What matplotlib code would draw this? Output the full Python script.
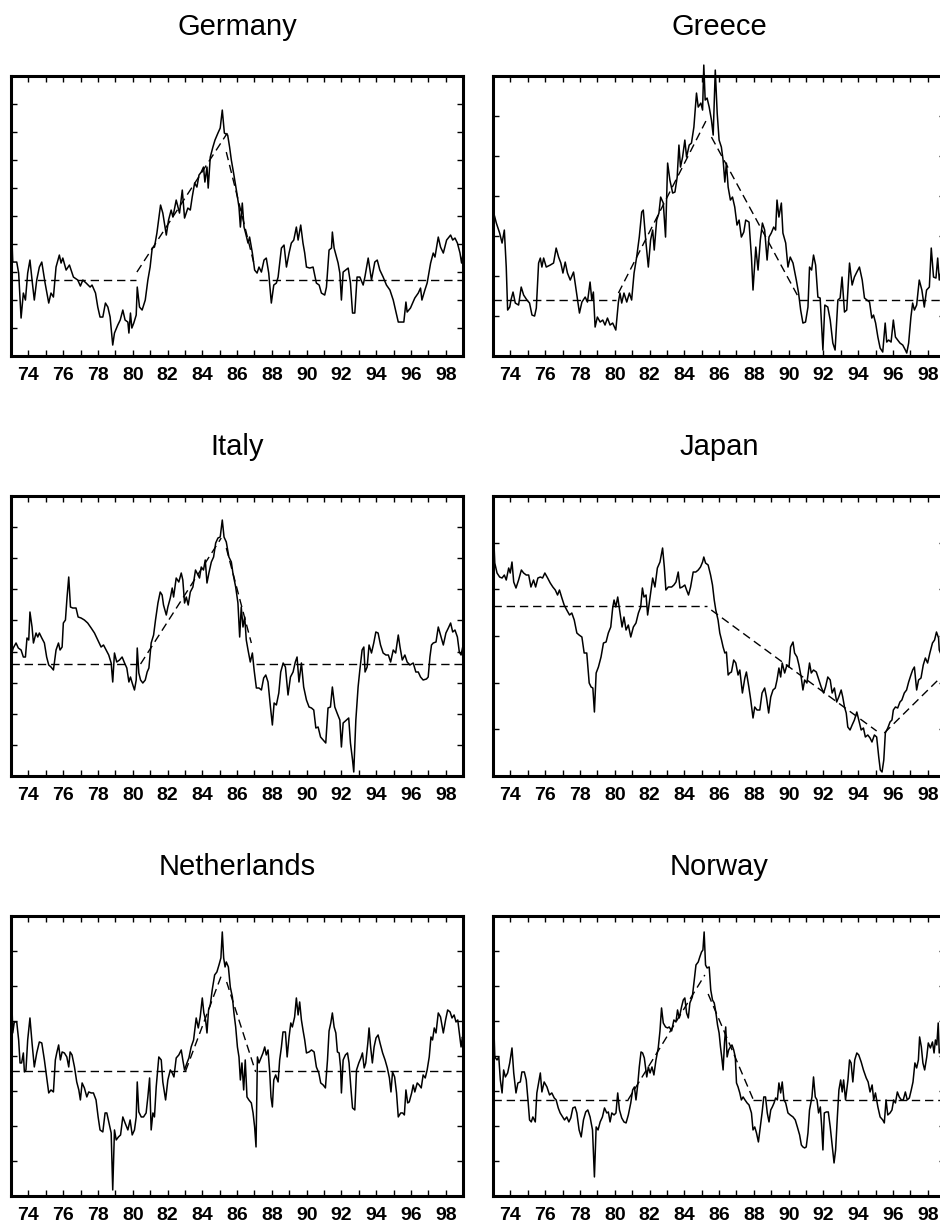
import matplotlib
matplotlib.use("Agg")
import matplotlib.pyplot as plt
import numpy as np

plt.rcParams['font.family'] = ['Liberation Sans', 'DejaVu Sans']

# real exchange rate index per country (decimal years), with fitted piecewise trend
ger_t = [73.04, 73.10, 73.33, 73.44, 73.58, 73.71, 73.83, 73.96, 74.09, 74.21,
         74.34, 74.48, 74.63, 74.77, 74.96, 75.17, 75.30, 75.44, 75.59, 75.78,
         75.88, 75.98, 76.17, 76.36, 76.59, 76.84, 76.99, 77.13, 77.32, 77.55,
         77.66, 77.86, 77.99, 78.12, 78.28, 78.43, 78.57, 78.70, 78.85, 78.95,
         79.14, 79.28, 79.43, 79.56, 79.72, 79.78, 79.87, 79.95, 80.06, 80.20,
         80.26, 80.39, 80.54, 80.72, 80.87, 81.00, 81.12, 81.25, 81.39, 81.60,
         81.73, 81.93, 82.06, 82.21, 82.31, 82.50, 82.69, 82.85, 82.98, 83.17,
         83.31, 83.42, 83.56, 83.69, 83.81, 83.94, 84.07, 84.15, 84.27, 84.34,
         84.46, 84.61, 84.73, 84.90, 85.03, 85.15, 85.27, 85.46, 85.57, 85.67,
         85.80, 85.96, 86.11, 86.19, 86.30, 86.40, 86.49, 86.63, 86.72, 86.88,
         87.01, 87.15, 87.26, 87.40, 87.55, 87.68, 87.82, 87.97, 88.11, 88.26,
         88.36, 88.55, 88.70, 88.84, 88.99, 89.12, 89.26, 89.41, 89.51, 89.66,
         89.79, 89.89, 89.99, 90.18, 90.37, 90.56, 90.72, 90.85, 91.04, 91.14,
         91.29, 91.43, 91.48, 91.58, 91.81, 91.91, 92.00, 92.10, 92.39, 92.52,
         92.64, 92.77, 92.90, 93.06, 93.25, 93.35, 93.54, 93.73, 93.92, 94.06,
         94.21, 94.40, 94.59, 94.79, 94.98, 95.27, 95.46, 95.59, 95.71, 95.78,
         95.97, 96.22, 96.42, 96.55, 96.63, 96.80, 96.93, 97.13, 97.28, 97.38,
         97.57, 97.70, 97.86, 98.05, 98.28, 98.40, 98.53, 98.67, 98.82, 98.91,
         99.00]
ger_v = [124, 94, 94, 83, 38, 63, 56, 83, 96, 76,
         56, 76, 89, 94, 73, 53, 63, 59, 89, 101,
         93, 98, 86, 91, 79, 76, 70, 76, 73, 69,
         71, 63, 49, 39, 39, 53, 49, 39, 11, 23,
         31, 36, 46, 36, 34, 23, 43, 28, 33, 41,
         69, 49, 46, 56, 76, 89, 108, 109, 123, 151,
         143, 121, 136, 146, 139, 156, 143, 166, 138, 148,
         146, 159, 173, 169, 181, 184, 189, 174, 189, 168,
         199, 209, 216, 223, 228, 246, 223, 221, 209, 196,
         183, 166, 149, 129, 153, 129, 123, 113, 119, 103,
         86, 83, 89, 84, 96, 98, 83, 53, 71, 73,
         79, 108, 111, 89, 103, 113, 116, 129, 116, 131,
         113, 103, 89, 88, 89, 73, 71, 63, 61, 69,
         106, 108, 124, 108, 93, 83, 56, 84, 88, 73,
         43, 43, 79, 79, 71, 79, 98, 76, 94, 96,
         86, 79, 71, 66, 56, 34, 34, 34, 54, 44,
         48, 58, 63, 68, 56, 66, 73, 93, 103, 99,
         119, 109, 103, 116, 121, 116, 118, 113, 103, 93,
         103]
ger_trend = [(73.0, 76, 80.2, 76), (80.24, 84, 85.44, 223),
             (85.38, 204, 86.95, 94), (87.26, 76, 99.0, 76)]

gre_t = [73.04, 73.19, 73.38, 73.52, 73.65, 73.76, 73.84, 73.96, 74.03, 74.15,
         74.28, 74.47, 74.62, 74.76, 74.95, 75.10, 75.24, 75.39, 75.49, 75.62,
         75.72, 75.81, 75.91, 76.06, 76.29, 76.48, 76.63, 76.77, 76.90, 77.02,
         77.15, 77.28, 77.44, 77.63, 77.78, 77.86, 77.97, 78.11, 78.30, 78.43,
         78.58, 78.68, 78.77, 78.87, 79.00, 79.16, 79.31, 79.44, 79.58, 79.73,
         79.88, 80.06, 80.21, 80.30, 80.40, 80.53, 80.69, 80.84, 80.97, 81.11,
         81.26, 81.41, 81.55, 81.64, 81.78, 81.93, 82.06, 82.18, 82.27, 82.41,
         82.54, 82.64, 82.79, 82.92, 83.04, 83.17, 83.33, 83.46, 83.59, 83.69,
         83.78, 83.90, 84.03, 84.13, 84.28, 84.41, 84.55, 84.70, 84.80, 84.95,
         85.05, 85.12, 85.20, 85.31, 85.43, 85.56, 85.66, 85.78, 85.89, 86.00,
         86.13, 86.23, 86.33, 86.42, 86.52, 86.65, 86.77, 86.90, 87.03, 87.15,
         87.28, 87.42, 87.53, 87.72, 87.86, 87.95, 88.11, 88.24, 88.37, 88.49,
         88.62, 88.76, 88.87, 89.00, 89.14, 89.25, 89.33, 89.44, 89.58, 89.67,
         89.83, 89.96, 90.09, 90.25, 90.44, 90.57, 90.69, 90.82, 90.97, 91.11,
         91.20, 91.32, 91.43, 91.55, 91.68, 91.81, 91.97, 92.08, 92.25, 92.39,
         92.54, 92.67, 92.83, 92.96, 93.07, 93.21, 93.34, 93.50, 93.65, 93.78,
         93.92, 94.07, 94.23, 94.36, 94.50, 94.65, 94.78, 94.88, 95.00, 95.13,
         95.26, 95.41, 95.55, 95.64, 95.75, 95.89, 96.02, 96.14, 96.27, 96.40,
         96.56, 96.71, 96.79, 96.90, 97.03, 97.13, 97.23, 97.36, 97.51, 97.66,
         97.80, 97.93, 98.09, 98.20, 98.33, 98.47, 98.57, 98.66, 98.80, 99.00]
gre_v = [143, 133, 123, 113, 126, 89, 46, 49, 56, 64,
         53, 51, 69, 61, 56, 53, 41, 40, 48, 93,
         98, 89, 98, 89, 91, 93, 108, 99, 93, 83,
         94, 83, 76, 84, 66, 56, 43, 54, 59, 54,
         74, 56, 64, 29, 39, 34, 36, 31, 38, 31,
         33, 26, 54, 63, 53, 63, 54, 63, 56, 83,
         99, 119, 144, 146, 116, 89, 116, 126, 106, 136,
         143, 159, 153, 119, 193, 176, 163, 164, 179, 211,
         189, 199, 216, 199, 211, 213, 229, 263, 249, 253,
         246, 291, 256, 258, 249, 236, 221, 286, 243, 216,
         209, 196, 174, 193, 169, 156, 159, 149, 131, 136,
         119, 124, 136, 134, 99, 66, 109, 86, 116, 133,
         126, 96, 119, 123, 129, 126, 156, 139, 153, 123,
         113, 89, 99, 93, 76, 63, 46, 33, 34, 49,
         89, 86, 101, 91, 59, 58, 6, 51, 49, 36,
         13, 6, 56, 58, 79, 44, 46, 93, 71, 79,
         84, 89, 76, 58, 56, 54, 38, 41, 33, 19,
         8, 4, 33, 14, 16, 14, 36, 19, 16, 13,
         11, 6, 3, 13, 39, 53, 46, 51, 76, 66,
         49, 66, 69, 108, 79, 78, 98, 76, 88, 82]
gre_trend = [(73.0, 56, 80.1, 56), (80.21, 63, 85.24, 235),
             (85.56, 219, 90.59, 58), (90.59, 56, 99.0, 56)]

ita_t = [73.04, 73.13, 73.29, 73.42, 73.58, 73.71, 73.83, 73.92, 74.02, 74.09,
         74.21, 74.29, 74.44, 74.54, 74.63, 74.77, 74.92, 75.05, 75.17, 75.30,
         75.44, 75.59, 75.73, 75.82, 75.94, 76.01, 76.13, 76.22, 76.32, 76.42,
         76.55, 76.74, 76.86, 77.03, 77.22, 77.41, 77.61, 77.80, 77.99, 78.18,
         78.32, 78.47, 78.62, 78.76, 78.85, 78.95, 79.08, 79.24, 79.39, 79.53,
         79.66, 79.78, 79.87, 79.97, 80.10, 80.20, 80.26, 80.35, 80.45, 80.58,
         80.72, 80.83, 80.93, 81.06, 81.20, 81.31, 81.45, 81.58, 81.69, 81.77,
         81.93, 82.02, 82.16, 82.27, 82.35, 82.50, 82.65, 82.79, 82.88, 82.98,
         83.08, 83.19, 83.31, 83.46, 83.61, 83.75, 83.84, 83.94, 84.07, 84.17,
         84.27, 84.38, 84.52, 84.65, 84.77, 84.90, 85.03, 85.15, 85.25, 85.38,
         85.53, 85.67, 85.76, 85.92, 86.05, 86.15, 86.24, 86.34, 86.44, 86.53,
         86.63, 86.76, 86.88, 86.98, 87.11, 87.26, 87.40, 87.53, 87.65, 87.78,
         87.92, 88.03, 88.13, 88.26, 88.40, 88.51, 88.65, 88.78, 88.93, 89.07,
         89.22, 89.35, 89.45, 89.56, 89.70, 89.83, 89.99, 90.14, 90.28, 90.41,
         90.53, 90.66, 90.80, 90.95, 91.10, 91.23, 91.37, 91.48, 91.62, 91.75,
         91.91, 92.00, 92.10, 92.29, 92.42, 92.52, 92.64, 92.71, 92.83, 92.96,
         93.06, 93.19, 93.29, 93.36, 93.48, 93.59, 93.73, 93.86, 93.98, 94.11,
         94.25, 94.40, 94.56, 94.70, 94.83, 94.98, 95.12, 95.27, 95.37, 95.50,
         95.65, 95.78, 95.94, 96.13, 96.28, 96.42, 96.55, 96.70, 96.89, 96.99,
         97.09, 97.18, 97.28, 97.44, 97.57, 97.70, 97.86, 98.01, 98.15, 98.28,
         98.40, 98.53, 98.67, 98.78, 98.88, 99.00]
ita_v = [123, 128, 133, 128, 126, 119, 119, 138, 136, 164,
         149, 133, 143, 139, 143, 138, 133, 119, 111, 109,
         106, 126, 133, 126, 129, 153, 156, 178, 199, 169,
         168, 168, 159, 158, 156, 153, 148, 143, 136, 129,
         131, 126, 121, 113, 94, 123, 114, 116, 119, 113,
         108, 94, 99, 93, 86, 96, 128, 103, 96, 93,
         96, 104, 108, 133, 141, 156, 173, 184, 181, 171,
         161, 169, 178, 188, 179, 198, 194, 203, 196, 173,
         179, 171, 184, 189, 206, 201, 198, 209, 206, 216,
         193, 203, 214, 219, 233, 238, 239, 256, 239, 234,
         219, 214, 203, 189, 173, 139, 169, 149, 159, 136,
         126, 114, 123, 106, 88, 88, 86, 98, 101, 94,
         69, 51, 73, 71, 83, 104, 113, 109, 81, 99,
         104, 114, 119, 94, 113, 89, 76, 69, 68, 66,
         48, 49, 39, 36, 33, 68, 69, 89, 69, 63,
         56, 29, 53, 56, 58, 33, 16, 4, 56, 89,
         106, 126, 129, 104, 109, 131, 123, 133, 144, 143,
         131, 123, 121, 121, 114, 126, 123, 141, 129, 116,
         121, 114, 111, 113, 104, 104, 99, 96, 97, 99,
         119, 131, 133, 134, 149, 141, 131, 143, 148, 153,
         144, 146, 139, 124, 121, 131]
ita_trend = [(73.0, 112, 80.45, 112), (80.45, 112, 85.09, 238),
             (85.38, 228, 86.82, 133), (87.11, 112, 99.0, 112)]

jpn_t = [73.04, 73.10, 73.23, 73.38, 73.52, 73.65, 73.76, 73.90, 73.99, 74.09,
         74.19, 74.32, 74.47, 74.63, 74.76, 74.91, 75.05, 75.18, 75.33, 75.45,
         75.58, 75.72, 75.85, 75.98, 76.14, 76.29, 76.44, 76.58, 76.71, 76.82,
         76.96, 77.09, 77.24, 77.40, 77.53, 77.67, 77.82, 77.95, 78.11, 78.24,
         78.39, 78.53, 78.64, 78.74, 78.83, 78.93, 79.06, 79.21, 79.35, 79.50,
         79.63, 79.77, 79.88, 79.96, 80.06, 80.17, 80.30, 80.42, 80.53, 80.65,
         80.78, 80.92, 81.07, 81.22, 81.36, 81.49, 81.59, 81.68, 81.80, 81.89,
         82.03, 82.18, 82.31, 82.45, 82.60, 82.75, 82.85, 82.94, 83.08, 83.27,
         83.40, 83.52, 83.65, 83.75, 83.88, 84.03, 84.13, 84.24, 84.36, 84.51,
         84.66, 84.80, 84.93, 85.05, 85.12, 85.22, 85.37, 85.51, 85.62, 85.72,
         85.81, 85.94, 86.04, 86.14, 86.23, 86.33, 86.42, 86.52, 86.61, 86.71,
         86.84, 86.96, 87.09, 87.19, 87.34, 87.48, 87.57, 87.71, 87.82, 87.95,
         88.05, 88.18, 88.34, 88.47, 88.62, 88.72, 88.85, 88.97, 89.10, 89.23,
         89.33, 89.44, 89.54, 89.63, 89.77, 89.90, 90.02, 90.11, 90.25, 90.34,
         90.48, 90.59, 90.72, 90.82, 90.92, 91.05, 91.20, 91.30, 91.43, 91.59,
         91.74, 91.87, 92.01, 92.12, 92.25, 92.39, 92.50, 92.63, 92.76, 92.88,
         93.02, 93.11, 93.21, 93.31, 93.40, 93.53, 93.65, 93.78, 93.92, 94.03,
         94.17, 94.30, 94.41, 94.55, 94.68, 94.79, 94.93, 95.06, 95.18, 95.27,
         95.37, 95.47, 95.56, 95.70, 95.83, 95.94, 96.02, 96.14, 96.27, 96.40,
         96.51, 96.65, 96.78, 96.90, 97.03, 97.13, 97.23, 97.36, 97.47, 97.61,
         97.74, 97.86, 97.99, 98.12, 98.27, 98.39, 98.50, 98.62, 98.66, 98.80,
         99.00]
jpn_v = [238, 213, 203, 199, 198, 201, 196, 208, 203, 214,
         194, 188, 196, 206, 203, 201, 201, 189, 196, 189,
         198, 199, 198, 203, 198, 193, 189, 186, 181, 186,
         178, 171, 166, 161, 163, 156, 143, 141, 139, 123,
         123, 93, 89, 88, 64, 103, 109, 119, 133, 134,
         143, 149, 168, 176, 169, 179, 163, 149, 159, 146,
         151, 139, 149, 153, 163, 169, 188, 179, 181, 161,
         179, 198, 189, 208, 214, 228, 209, 186, 189, 189,
         191, 194, 204, 188, 189, 191, 186, 181, 189, 204,
         204, 206, 209, 214, 219, 213, 211, 201, 191, 176,
         166, 156, 143, 136, 129, 123, 124, 101, 103, 104,
         116, 113, 101, 106, 83, 98, 104, 89, 76, 58,
         69, 66, 66, 83, 88, 79, 63, 79, 86, 88,
         96, 108, 99, 113, 103, 111, 109, 129, 134, 123,
         119, 111, 99, 86, 96, 93, 113, 103, 106, 104,
         96, 89, 83, 89, 99, 96, 83, 88, 74, 79,
         86, 79, 69, 63, 49, 46, 51, 56, 64, 56,
         46, 48, 39, 41, 38, 34, 41, 39, 19, 6,
         4, 16, 43, 48, 54, 56, 66, 69, 68, 74,
         76, 83, 86, 94, 101, 106, 109, 86, 96, 98,
         111, 118, 113, 123, 133, 136, 144, 138, 126, 120,
         112]
jpn_trend = [(73.0, 170, 85.28, 170), (85.55, 166, 95.06, 45),
             (95.50, 43, 99.0, 103)]

ned_t = [73.04, 73.10, 73.19, 73.33, 73.44, 73.52, 73.61, 73.71, 73.77, 73.86,
         73.96, 74.09, 74.21, 74.34, 74.48, 74.63, 74.77, 74.92, 75.05, 75.17,
         75.30, 75.44, 75.55, 75.63, 75.74, 75.84, 75.94, 76.07, 76.21, 76.32,
         76.40, 76.51, 76.65, 76.78, 76.90, 76.99, 77.09, 77.22, 77.36, 77.47,
         77.61, 77.74, 77.89, 78.01, 78.12, 78.28, 78.41, 78.51, 78.62, 78.76,
         78.85, 78.95, 79.05, 79.18, 79.30, 79.43, 79.56, 79.72, 79.85, 79.97,
         80.10, 80.20, 80.26, 80.35, 80.49, 80.62, 80.77, 80.87, 80.97, 81.06,
         81.16, 81.25, 81.35, 81.50, 81.64, 81.73, 81.89, 82.02, 82.16, 82.27,
         82.37, 82.50, 82.65, 82.79, 82.88, 82.98, 83.12, 83.23, 83.36, 83.50,
         83.65, 83.77, 83.88, 84.00, 84.09, 84.19, 84.27, 84.36, 84.46, 84.57,
         84.71, 84.84, 84.96, 85.07, 85.15, 85.23, 85.31, 85.38, 85.50, 85.61,
         85.73, 85.82, 85.92, 86.02, 86.11, 86.19, 86.28, 86.38, 86.47, 86.57,
         86.68, 86.82, 86.92, 87.01, 87.09, 87.17, 87.26, 87.40, 87.49, 87.59,
         87.68, 87.78, 87.88, 87.95, 88.03, 88.11, 88.22, 88.36, 88.45, 88.55,
         88.64, 88.78, 88.88, 88.99, 89.09, 89.18, 89.31, 89.41, 89.51, 89.60,
         89.70, 89.80, 89.89, 89.99, 90.14, 90.28, 90.43, 90.56, 90.70, 90.81,
         90.95, 91.08, 91.20, 91.29, 91.39, 91.48, 91.58, 91.68, 91.77, 91.87,
         91.95, 92.00, 92.10, 92.23, 92.35, 92.44, 92.54, 92.64, 92.77, 92.87,
         93.00, 93.12, 93.21, 93.31, 93.40, 93.52, 93.59, 93.68, 93.78, 93.88,
         93.99, 94.11, 94.22, 94.37, 94.51, 94.64, 94.76, 94.85, 94.94, 95.06,
         95.17, 95.27, 95.41, 95.52, 95.62, 95.71, 95.81, 95.90, 96.04, 96.13,
         96.22, 96.36, 96.47, 96.59, 96.70, 96.82, 96.93, 97.05, 97.15, 97.24,
         97.34, 97.44, 97.57, 97.70, 97.86, 97.99, 98.11, 98.25, 98.36, 98.48,
         98.59, 98.69, 98.78, 98.88, 98.96, 99.00]
ned_v = [201, 163, 174, 174, 156, 133, 133, 143, 124, 126,
         156, 178, 153, 129, 143, 154, 153, 136, 119, 103,
         106, 104, 136, 143, 151, 136, 144, 143, 139, 129,
         144, 141, 129, 114, 106, 96, 113, 108, 99, 104,
         103, 103, 96, 79, 66, 64, 83, 83, 74, 63,
         6, 66, 56, 59, 61, 79, 73, 66, 76, 61,
         66, 79, 114, 84, 79, 79, 83, 99, 118, 66,
         83, 79, 109, 139, 136, 114, 96, 116, 126, 123,
         119, 138, 141, 146, 136, 126, 133, 138, 149, 156,
         178, 168, 179, 198, 183, 176, 163, 186, 191, 206,
         221, 224, 231, 238, 264, 238, 229, 234, 229, 209,
         199, 183, 169, 149, 139, 116, 133, 106, 136, 99,
         96, 93, 83, 69, 49, 139, 133, 139, 143, 149,
         141, 146, 123, 99, 89, 116, 121, 114, 136, 149,
         164, 164, 139, 159, 173, 169, 179, 198, 181, 194,
         176, 165, 156, 143, 144, 146, 144, 129, 123, 113,
         111, 108, 136, 165, 173, 183, 169, 163, 144, 143,
         129, 103, 136, 141, 143, 133, 109, 88, 86, 126,
         133, 138, 143, 128, 133, 153, 168, 149, 133, 149,
         158, 161, 153, 143, 136, 128, 118, 104, 124, 119,
         103, 79, 83, 83, 81, 106, 93, 94, 103, 111,
         104, 113, 111, 108, 121, 118, 126, 139, 159, 156,
         168, 163, 183, 179, 163, 176, 186, 184, 178, 181,
         174, 176, 163, 149, 159, 156]
ned_trend = [(73.0, 125, 83.04, 125), (83.04, 125, 85.11, 221),
             (85.40, 214, 87.07, 124), (87.2, 125, 99.0, 125)]

nor_t = [73.04, 73.10, 73.23, 73.33, 73.42, 73.52, 73.61, 73.71, 73.84, 73.96,
         74.09, 74.19, 74.32, 74.43, 74.57, 74.66, 74.80, 74.91, 75.01, 75.10,
         75.20, 75.29, 75.43, 75.52, 75.62, 75.72, 75.81, 75.94, 76.10, 76.25,
         76.38, 76.52, 76.63, 76.75, 76.86, 77.00, 77.11, 77.24, 77.36, 77.47,
         77.59, 77.72, 77.82, 77.95, 78.07, 78.20, 78.33, 78.45, 78.58, 78.72,
         78.83, 78.93, 79.04, 79.16, 79.29, 79.41, 79.54, 79.63, 79.73, 79.83,
         79.96, 80.07, 80.17, 80.27, 80.40, 80.53, 80.65, 80.78, 80.92, 81.03,
         81.13, 81.22, 81.32, 81.41, 81.51, 81.60, 81.70, 81.84, 81.93, 82.03,
         82.14, 82.25, 82.37, 82.50, 82.60, 82.69, 82.79, 82.92, 83.04, 83.13,
         83.27, 83.40, 83.52, 83.61, 83.71, 83.84, 83.94, 84.03, 84.13, 84.23,
         84.32, 84.46, 84.55, 84.67, 84.80, 84.89, 84.99, 85.07, 85.14, 85.22,
         85.31, 85.43, 85.52, 85.62, 85.72, 85.81, 85.91, 86.00, 86.08, 86.15,
         86.23, 86.31, 86.38, 86.46, 86.55, 86.65, 86.74, 86.84, 86.93, 87.00,
         87.09, 87.19, 87.28, 87.38, 87.49, 87.61, 87.72, 87.86, 87.95, 88.05,
         88.15, 88.26, 88.37, 88.47, 88.57, 88.67, 88.77, 88.87, 88.97, 89.06,
         89.16, 89.25, 89.35, 89.44, 89.54, 89.63, 89.73, 89.83, 89.96, 90.09,
         90.25, 90.38, 90.50, 90.63, 90.73, 90.82, 90.92, 91.01, 91.11, 91.20,
         91.34, 91.43, 91.53, 91.63, 91.72, 91.82, 91.90, 91.97, 92.05, 92.17,
         92.28, 92.39, 92.51, 92.61, 92.70, 92.80, 92.89, 92.99, 93.08, 93.16,
         93.27, 93.41, 93.50, 93.59, 93.69, 93.80, 93.92, 94.03, 94.17, 94.30,
         94.46, 94.57, 94.68, 94.80, 94.89, 94.99, 95.13, 95.26, 95.41, 95.50,
         95.60, 95.70, 95.83, 95.94, 96.04, 96.14, 96.25, 96.36, 96.48, 96.59,
         96.71, 96.82, 96.94, 97.05, 97.15, 97.26, 97.36, 97.46, 97.53, 97.63,
         97.72, 97.82, 97.94, 98.03, 98.15, 98.27, 98.36, 98.44, 98.52, 98.60,
         98.66, 98.80, 99.00]
nor_v = [174, 139, 136, 139, 116, 103, 126, 119, 123, 133,
         148, 123, 103, 113, 114, 124, 124, 116, 96, 76,
         74, 79, 74, 103, 113, 123, 104, 114, 109, 101,
         103, 98, 96, 88, 83, 79, 76, 79, 74, 78,
         88, 89, 83, 66, 59, 76, 84, 86, 79, 66,
         19, 69, 66, 74, 79, 88, 83, 84, 74, 83,
         81, 83, 103, 86, 78, 74, 73, 81, 93, 106,
         109, 96, 111, 129, 144, 143, 138, 119, 129, 123,
         129, 121, 136, 148, 165, 188, 173, 169, 168, 169,
         165, 176, 174, 186, 178, 189, 196, 198, 183, 178,
         193, 199, 213, 231, 234, 239, 244, 246, 264, 231,
         228, 229, 206, 196, 193, 184, 171, 163, 149, 139,
         126, 153, 169, 139, 146, 149, 151, 146, 139, 113,
         109, 103, 96, 99, 96, 93, 91, 83, 66, 69,
         63, 54, 69, 83, 99, 99, 83, 74, 86, 89,
         93, 98, 96, 113, 103, 114, 96, 93, 83, 81,
         79, 76, 69, 61, 51, 49, 48, 49, 63, 86,
         99, 119, 99, 96, 83, 89, 69, 46, 83, 84,
         84, 69, 49, 33, 46, 79, 106, 116, 104, 116,
         96, 116, 136, 133, 114, 136, 143, 141, 134, 126,
         118, 114, 104, 111, 96, 103, 89, 79, 76, 73,
         96, 81, 83, 86, 96, 93, 104, 99, 96, 96,
         104, 96, 98, 106, 114, 133, 128, 136, 159, 149,
         133, 126, 139, 153, 148, 154, 143, 156, 151, 173,
         143, 150, 145]
nor_trend = [(73.0, 96, 80.76, 96), (80.76, 96, 85.18, 221),
             (85.37, 202, 87.95, 97), (87.95, 96, 99.0, 96)]

# name, series, trend, number of y-tick intervals
panels = [
    ("Germany", ger_t, ger_v, ger_trend, 10),
    ("Greece", gre_t, gre_v, gre_trend, 7),
    ("Italy", ita_t, ita_v, ita_trend, 9),
    ("Japan", jpn_t, jpn_v, jpn_trend, 6),
    ("Netherlands", ned_t, ned_v, ned_trend, 8),
    ("Norway", nor_t, nor_v, nor_trend, 8),
]

fig = plt.figure(figsize=(9.4, 12.29), dpi=100)
lefts = [0.0117, 0.5245]
bottoms = [0.7103, 0.3686, 0.0269]
w, h = 0.481, 0.2278
years = np.arange(74, 99)

for i, (name, t, v, trend, ny) in enumerate(panels):
    ax = fig.add_axes([lefts[i % 2], bottoms[i // 2], w, h])
    ax.plot(t, v, color='black', lw=1.1, clip_on=False)
    for t0, v0, t1, v1 in trend:
        ax.plot([t0, t1], [v0, v1], color='black', lw=1.0, dashes=(6, 3.5))
    ax.set_xlim(73, 99)
    ax.set_ylim(0, 280)
    ax.set_xticks(years)
    ax.set_xticklabels([str(y) if y % 2 == 0 else '' for y in years],
                       fontweight='bold')
    ax.set_yticks(np.linspace(0, 280, ny + 1)[1:-1])
    ax.set_yticklabels([])
    ax.tick_params(direction='in', length=4, width=1, top=True, right=True,
                   labelsize=14, pad=8)
    for s in ax.spines.values():
        s.set_linewidth(2.2)
    ax.text(0.5, 1 + 41 / 280, name, transform=ax.transAxes,
            ha='center', va='baseline', fontsize=21)

fig.savefig('out.png', dpi=100)
